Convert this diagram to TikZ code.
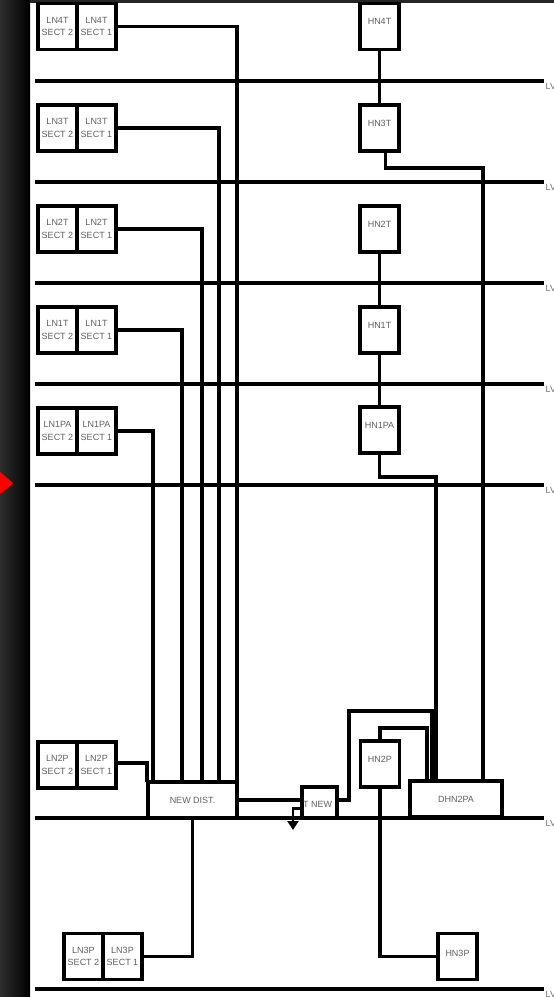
\documentclass[tikz,border=0pt]{standalone}
\usepackage{fontspec}
\setmainfont{Liberation Sans}
\usetikzlibrary{arrows.meta}
\begin{document}
\begin{tikzpicture}[x=1pt,y=-1pt,
 wire/.style={line width=3.4pt},
 bus/.style={line width=3.4pt},
 box/.style={draw,line width=3.8pt,fill=white,outer sep=0pt,inner sep=0pt,
   font=\fontsize{9}{12.5}\selectfont,text=black!62,align=center},
 half/.style={box,minimum width=39pt,minimum height=46pt},
 hn/.style={box,minimum width=39pt,minimum height=46pt},
 txt/.style={font=\fontsize{9}{12.5}\selectfont,text=black!62,inner sep=0pt},
 lv/.style={font=\fontsize{9}{10}\selectfont,text=black!55,anchor=north west,inner sep=0pt}
]
\useasboundingbox (0,0) rectangle (554,997);
\fill[white] (0,0) rectangle (554,997);
\shade[left color=black!82, right color=black] (0,0) rectangle (30,997);
\fill[black!85] (30,0) rectangle (554,3);
\fill[red] (0,472) -- (13,483) -- (0,494) -- cycle;

% buses
\foreach \y in {81,182,283,384,485,818,989}
  \draw[bus] (35,\y) -- (544,\y) node[lv,yshift=-1pt] (lv\y) {LV};

% left pairs
\node[half] (ln4t2) at (57.5,26.5) {LN4T\\SECT 2};
\node[half] (ln4t1) at (96.5,26.5) {LN4T\\SECT 1};
\node[half] (ln3t2) at (57.5,128) {LN3T\\SECT 2};
\node[half] (ln3t1) at (96.5,128) {LN3T\\SECT 1};
\node[half] (ln2t2) at (57.5,229) {LN2T\\SECT 2};
\node[half] (ln2t1) at (96.5,229) {LN2T\\SECT 1};
\node[half] (ln1t2) at (57.5,330) {LN1T\\SECT 2};
\node[half] (ln1t1) at (96.5,330) {LN1T\\SECT 1};
\node[half] (ln1pa2) at (57.5,431) {LN1PA\\SECT 2};
\node[half] (ln1pa1) at (96.5,431) {LN1PA\\SECT 1};
\node[half] (ln2p2) at (57.5,765) {LN2P\\SECT 2};
\node[half] (ln2p1) at (96.5,765) {LN2P\\SECT 1};
\node[half] (ln3p2) at (83.5,956.5) {LN3P\\SECT 2};
\node[half] (ln3p1) at (122.5,956.5) {LN3P\\SECT 1};

% HN boxes
\node[hn,label={[txt,anchor=center,yshift=-18pt]north:HN4T}] (hn4t) at (379.5,26.5) {};
\node[hn,label={[txt,anchor=center,yshift=-18pt]north:HN3T}] (hn3t) at (379.5,128) {};
\node[hn,label={[txt,anchor=center,yshift=-18pt]north:HN2T}] (hn2t) at (379.5,229) {};
\node[hn,label={[txt,anchor=center,yshift=-18pt]north:HN1T}] (hn1t) at (379.5,330) {};
\node[hn,label={[txt,anchor=center,yshift=-18pt]north:HN1PA}] (hn1pa) at (379.5,430) {};
\node[hn,label={[txt,anchor=center,yshift=-18pt]north:HN2P}] (hn2p) at (380,764) {};
\node[hn,label={[txt,anchor=center,yshift=-20pt]north:HN3P}] (hn3p) at (457.5,956.5) {};

% distribution boxes
\node[box,minimum width=89pt,minimum height=36pt] (nd) at (192.5,800) {NEW DIST.};
\node[box,minimum width=35pt,minimum height=31pt,
  label={[txt,anchor=west,xshift=1pt,yshift=-2pt]west:T NEW}] (tn) at (319.5,802.5) {};
\node[box,minimum width=92pt,minimum height=36pt] (dhn) at (456,799) {DHN2PA};

% wires to NEW DIST
\draw[wire] (ln4t1.east) -| (nd.north east);
\draw[wire] (ln3t1.east) -| ([xshift=71pt]nd.north west);
\draw[wire] (ln2t1.east) -| ([xshift=54pt]nd.north west);
\draw[wire] (ln1t1.east) -| ([xshift=34pt]nd.north west);
\draw[wire] (ln1pa1.east) -| ([xshift=5pt]nd.north west);
\draw[wire] ([yshift=2pt]ln2p1.east) -| ([xshift=-1pt]nd.north west);
\draw[wire] (nd.south) |- (ln3p1.east);
\draw[wire] (nd.east) -- (nd.east -| tn.west);

% HN chain
\draw[wire] (hn4t.south) -- (hn3t.north);
\draw[wire] (hn2t.south) -- (hn1t.north);
\draw[wire] (hn1t.south) -- (hn1pa.north);
\coordinate (le) at (483,168);
\draw[wire] ([xshift=6pt]hn3t.south) |- (le) -- (le |- dhn.north);
\coordinate (ld) at (436,477);
\draw[wire] (hn1pa.south) |- (ld) -- (ld |- dhn.north);
\coordinate (la) at (349,711);
\coordinate (lb) at (432,711);
\draw[wire] (nd.east -| tn.east) -| (la) -- (lb) -- (lb |- dhn.north);
\coordinate (lc) at (427,728);
\draw[wire] (hn2p.north) |- (lc) -- (lc |- dhn.north);
\draw[wire] (hn2p.south) |- (hn3p.west);

% arrow
\coordinate (ar) at (293,830);
\draw[line width=2.4pt,-{Triangle[width=11pt,length=9pt]}] ([yshift=-6pt]tn.west) -| (ar);
\end{tikzpicture}
\end{document}
